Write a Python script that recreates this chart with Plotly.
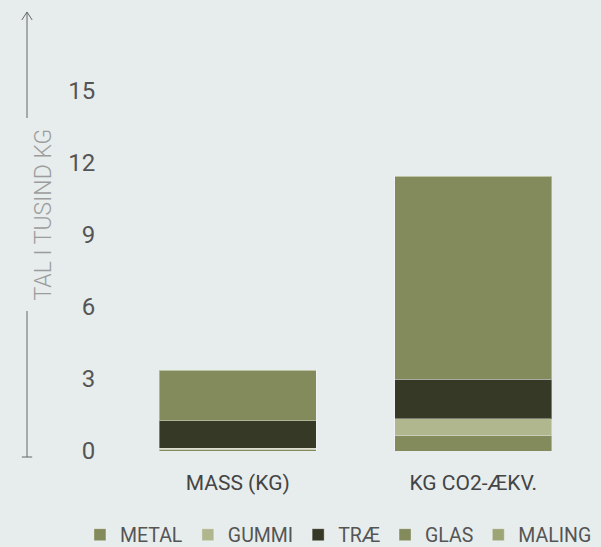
import plotly.graph_objects as go

categories = ["MASS (KG)", "KG CO2-ÆKV."]
metal = [0.08, 0.65]
gummi = [0.04, 0.69]
trae = [1.15, 1.64]
glas = [2.07, 8.45]
maling = [0.02, 0.02]

series = [
    ("METAL", metal, "#838a5c"),
    ("GUMMI", gummi, "#b0b78f"),
    ("TRÆ", trae, "#363926"),
    ("GLAS", glas, "#838a5c"),
    ("MALING", maling, "#9da577"),
]

fig = go.Figure()
for name, vals, col in series:
    fig.add_trace(go.Bar(
        x=categories, y=vals, name=name,
        marker=dict(color=col, line=dict(color="rgba(255,255,255,0.35)", width=1)),
        hoverinfo="x+y+name",
    ))

bg = "#e7eded"
fig.update_layout(
    width=601, height=547,
    barmode="stack", bargap=0.335,
    paper_bgcolor=bg, plot_bgcolor=bg,
    margin=dict(l=120, r=10, t=10, b=96, autoexpand=False),
    font=dict(family="Roboto", color="#555555"),
    showlegend=True,
    legend=dict(
        orientation="h", x=-0.085, xanchor="left",
        y=-(535 - 451) / 441, yanchor="middle",
        font=dict(size=19.5, color="#555555"), itemwidth=30, traceorder="normal",
        bgcolor="rgba(0,0,0,0)",
    ),
    xaxis=dict(
        showgrid=False, zeroline=False, showline=False, automargin=False,
        ticks="outside", ticklen=13, tickcolor="rgba(0,0,0,0)",
        tickfont=dict(size=21, color="#444444"),
    ),
    yaxis=dict(
        range=[0, 18.375], tickvals=[0, 3, 6, 9, 12, 15], automargin=False,
        showgrid=False, zeroline=False, showline=False,
        ticks="outside", ticklen=19, tickcolor="rgba(0,0,0,0)",
        tickfont=dict(size=24, color="#555555"),
    ),
)

# decorative axis-title arrow
lc = "#666666"
xl = (27 - 120) / 471
fig.add_shape(type="line", xref="paper", yref="paper", x0=xl, x1=xl,
              y0=(451 - 118) / 441, y1=(451 - 12) / 441, line=dict(color=lc, width=1))
fig.add_shape(type="line", xref="paper", yref="paper", x0=xl, x1=xl,
              y0=(451 - 457) / 441, y1=(451 - 311) / 441, line=dict(color=lc, width=1))
fig.add_shape(type="line", xref="paper", yref="paper", x0=xl - 0.011, x1=xl + 0.011,
              y0=(451 - 457) / 441, y1=(451 - 457) / 441, line=dict(color=lc, width=1))
fig.add_shape(type="path", xref="paper", yref="paper",
              path="M %f %f L %f %f L %f %f" % (xl - 0.011, (451 - 20) / 441, xl, (451 - 12) / 441, xl + 0.011, (451 - 20) / 441),
              line=dict(color=lc, width=1))
fig.add_annotation(text="TAL I TUSIND KG", xref="paper", yref="paper",
                   x=xl, y=(451 - 215) / 441, textangle=-90, showarrow=False,
                   font=dict(size=23, color="#9c9c9c", weight=300))

fig.write_html("out.html", config={"displayModeBar": False},
               post_script="document.body.style.margin='0';document.body.style.overflow='hidden';document.body.style.background='%s';" % bg)
